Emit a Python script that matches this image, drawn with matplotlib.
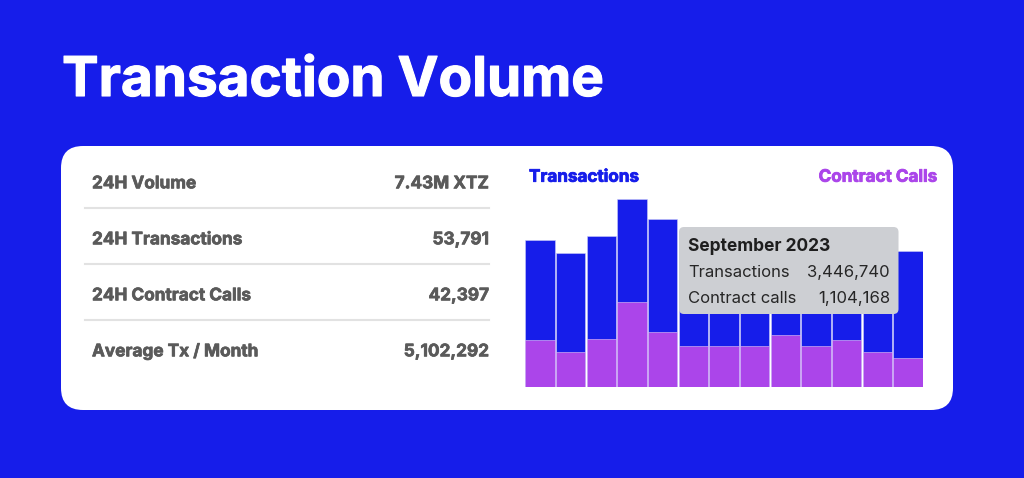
import numpy as np
import matplotlib
matplotlib.use("Agg")
import matplotlib.pyplot as plt
import matplotlib.patheffects as pe
from matplotlib.patches import FancyBboxPatch
from matplotlib.transforms import Affine2D

# monthly values (millions)
transactions = [3.447, 3.148, 3.548, 4.410, 3.947, 3.05, 2.85, 2.95, 3.10, 2.90, 3.00, 2.80, 3.195]
contract_calls = [1.104, 0.822, 1.121, 1.983, 1.285, 0.963, 0.963, 0.963, 1.208, 0.963, 1.090, 0.822, 0.681]

stat_labels = ["24H Volume", "24H Transactions", "24H Contract Calls", "Average Tx / Month"]
stat_values = ["7.43M XTZ", "53,791", "42,397", "5,102,292"]

tip_title = "September 2023"
tip_rows = [("Transactions", "3,446,740"), ("Contract calls", "1,104,168")]

BLUE = "#161DEA"
PURPLE = "#AB45EA"
W, H = 1024, 478

plt.rcParams['font.family'] = ['Inter', 'DejaVu Sans']


def thick(color, lw):
    # fake an extra-bold weight
    return [pe.withStroke(linewidth=lw, foreground=color)]


fig = plt.figure(figsize=(W / 100, H / 100), dpi=100, facecolor=BLUE)
# pixel coords, origin top-left
px = Affine2D().scale(1 / W, -1 / H).translate(0, 1) + fig.transFigure

fig.text(62, 96, "Transaction Volume", transform=px, color="white",
         fontsize=39.5, fontweight="bold", va="baseline", ha="left",
         path_effects=thick("white", 0.8))

card = FancyBboxPatch((61, 146), 892, 264, boxstyle="round,pad=0,rounding_size=22",
                      transform=px, facecolor="white", edgecolor="none", zorder=-1)
fig.patches.append(card)

# stats table
for i, (lab, val) in enumerate(zip(stat_labels, stat_values)):
    y = 188.3 + 56 * i
    fig.text(92, y, lab, transform=px, color="#5A5A5A", fontsize=12.4,
             fontweight="bold", va="baseline", ha="left", path_effects=thick("#5A5A5A", 0.5))
    fig.text(489, y, val, transform=px, color="#5A5A5A", fontsize=12.4,
             fontweight="bold", va="baseline", ha="right", path_effects=thick("#5A5A5A", 0.5))
    if i < len(stat_labels) - 1:
        fig.lines.append(plt.Line2D([85, 489], [y + 20, y + 20], transform=px,
                                    color="#E2E2E2", linewidth=1.5))

# legend labels
fig.text(529, 181.7, "Transactions", transform=px, color=BLUE, fontsize=12.3,
         fontweight="bold", va="baseline", ha="left", path_effects=thick(BLUE, 0.6))
fig.text(937, 181.7, "Contract Calls", transform=px, color=PURPLE, fontsize=12.3,
         fontweight="bold", va="baseline", ha="right", path_effects=thick(PURPLE, 0.6))

# bar chart
left, right, bottom, top = 524.7, 923.3, 386.7, 190.0
ax = fig.add_axes([left / W, 1 - bottom / H, (right - left) / W, (bottom - top) / H])
ax.set_facecolor("none")
x = np.arange(len(transactions))
ax.bar(x, transactions, width=0.955, color=BLUE, edgecolor="#C9CBF9", linewidth=0.4)
ax.bar(x, contract_calls, width=0.955, color=PURPLE, edgecolor="#E4C8F8", linewidth=0.4)
ax.set_xlim(-0.5, len(transactions) - 0.5)
ax.set_ylim(0, (bottom - top) * 3.44674 / 146.7)
ax.axis("off")

# tooltip
tip = FancyBboxPatch((679, 227), 219.5, 87, boxstyle="round,pad=0,rounding_size=5",
                     transform=px, facecolor="#CDCFD3", edgecolor="none", zorder=5)
fig.patches.append(tip)
fig.text(688, 251, tip_title, transform=px, color="#1E1E1E", fontsize=12.5,
         fontweight="bold", va="baseline", ha="left", zorder=6)
for j, (lab, val) in enumerate(tip_rows):
    y = 277.3 + 26 * j
    fig.text(688, y, lab, transform=px, color="#262626", fontsize=12,
             va="baseline", ha="left", zorder=6)
    fig.text(890, y, val, transform=px, color="#262626", fontsize=12,
             va="baseline", ha="right", zorder=6)

fig.savefig("out.png", dpi=100, facecolor=BLUE)
